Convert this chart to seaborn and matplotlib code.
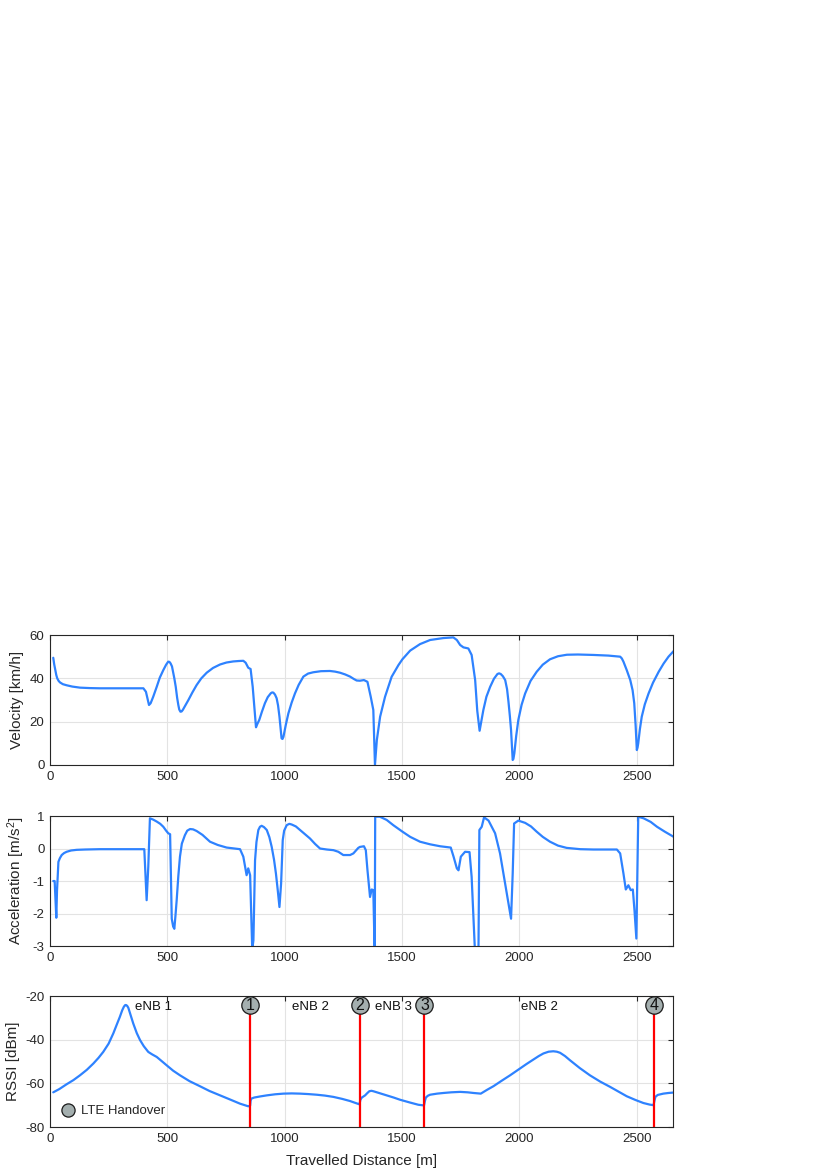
import numpy as np
import pandas as pd
import matplotlib
matplotlib.use("Agg")
import matplotlib.pyplot as plt
import seaborn as sns
from matplotlib.lines import Line2D

# ---------------- data ----------------
vel_x = [14, 18, 23, 27, 31, 37, 43, 55, 71, 95, 128, 170, 213, 398, 409, 422, 429, 440, 455,
         468, 483, 495, 504, 509, 514, 520, 530, 536, 542, 547, 551, 556, 561, 566, 577, 590,
         607, 625, 645, 668, 695, 725, 752, 781, 805, 824, 834, 845, 855, 864, 878, 884, 892,
         903, 916, 928, 941, 947, 952, 959, 966, 972, 978, 983, 987, 991, 995, 1005, 1016,
         1030, 1044, 1060, 1080, 1100, 1122, 1155, 1193, 1215, 1236, 1258, 1279, 1295, 1307,
         1321, 1338, 1353, 1367, 1378, 1385, 1393, 1407, 1428, 1456, 1485, 1502, 1535, 1577,
         1620, 1677, 1719, 1734, 1748, 1762, 1783, 1797, 1812, 1821, 1831, 1838, 1847, 1860,
         1876, 1892, 1907, 1914, 1921, 1930, 1940, 1948, 1954, 1960, 1965, 1969, 1972, 1975,
         1979, 1987, 1996, 2010, 2025, 2048, 2074, 2100, 2131, 2165, 2203, 2250, 2316, 2380,
         2430, 2437, 2444, 2458, 2473, 2483, 2490, 2496, 2501, 2504, 2507, 2514, 2522, 2535,
         2551, 2570, 2594, 2615, 2636, 2658]
vel_y = [49.5, 46.5, 43.8, 41.5, 40.0, 38.8, 38.1, 37.3, 36.8, 36.2, 35.7, 35.5, 35.4, 35.4,
         33.8, 27.7, 28.5, 31.5, 36.1, 40.3, 43.8, 46.3, 47.7, 47.6, 46.9, 45.5, 40.0, 36.1,
         31.0, 27.7, 25.6, 24.6, 24.7, 25.4, 27.5, 30.0, 33.5, 36.9, 40.0, 42.6, 44.8, 46.4,
         47.3, 47.8, 48.0, 48.1, 47.2, 44.9, 44.3, 36.1, 17.4, 19.0, 20.8, 24.5, 28.5, 31.3,
         33.1, 33.5, 33.4, 32.5, 30.8, 27.5, 22.3, 17.0, 12.3, 12.0, 13.0, 18.5, 23.8, 28.8,
         33.0, 37.0, 40.8, 42.2, 42.8, 43.3, 43.4, 43.1, 42.6, 41.8, 40.8, 39.7, 39.0, 38.9,
         39.2, 38.4, 31.5, 25.4, 0.0, 11.5, 22.3, 31.5, 40.7, 46.1, 48.8, 52.8, 55.8, 57.7,
         58.6, 58.9, 57.7, 55.4, 54.3, 53.8, 50.8, 39.2, 25.0, 15.8, 20.0, 25.4, 31.5, 36.1,
         39.8, 42.0, 42.3, 42.0, 41.0, 39.2, 35.0, 29.2, 22.5, 16.1, 8.0, 2.3, 2.8, 5.4, 13.5,
         20.8, 27.8, 33.0, 38.8, 43.0, 46.3, 48.8, 50.2, 50.9, 51.0, 50.8, 50.5, 50.0, 49.2,
         47.7, 43.8, 39.2, 34.5, 28.5, 18.0, 6.9, 8.0, 10.0, 16.5, 22.3, 28.0, 33.0, 38.0,
         43.0, 46.8, 50.0, 52.6]

acc_x = [14, 20, 27, 30, 36, 42, 50, 60, 71, 90, 114, 150, 213, 402, 412, 419, 426, 440, 455,
         470, 483, 495, 504, 512, 519, 525, 530, 535, 540, 547, 554, 562, 575, 585, 597, 610,
         625, 650, 682, 715, 753, 785, 810, 824, 838, 845, 853, 862, 867, 874, 880, 888, 895,
         902, 912, 924, 935, 945, 955, 963, 971, 978, 985, 992, 998, 1009, 1020, 1030, 1048,
         1066, 1087, 1108, 1130, 1151, 1180, 1208, 1229, 1250, 1279, 1293, 1314, 1321, 1338,
         1346, 1353, 1364, 1371, 1378, 1384, 1386, 1406, 1435, 1463, 1502, 1535, 1577, 1620,
         1663, 1708, 1720, 1734, 1741, 1751, 1769, 1788, 1797, 1812, 1826, 1830, 1840, 1850,
         1869, 1897, 1918, 1947, 1965, 1972, 1978, 1996, 2025, 2050, 2074, 2100, 2131, 2165,
         2202, 2260, 2316, 2416, 2430, 2444, 2454, 2465, 2475, 2484, 2491, 2499, 2507, 2530,
         2560, 2587, 2620, 2658]
acc_y = [-1.0, -1.0, -2.13, -1.3, -0.41, -0.3, -0.2, -0.14, -0.1, -0.06, -0.04, -0.03, -0.02,
         -0.02, -1.59, -0.56, 0.93, 0.89, 0.83, 0.76, 0.67, 0.55, 0.47, 0.44, -2.16, -2.4,
         -2.47, -2.05, -1.59, -0.85, -0.25, 0.15, 0.41, 0.55, 0.6, 0.59, 0.54, 0.42, 0.21,
         0.11, 0.03, 0.0, -0.02, -0.25, -0.82, -0.61, -0.82, -3.1, -2.83, -0.36, 0.2, 0.57,
         0.67, 0.70, 0.66, 0.57, 0.35, 0.05, -0.35, -0.77, -1.3, -1.8, -1.08, 0.26, 0.55,
         0.72, 0.76, 0.74, 0.68, 0.57, 0.44, 0.31, 0.14, 0.0, -0.03, -0.05, -0.1, -0.2, -0.2,
         -0.15, 0.02, 0.05, 0.07, -0.05, -0.66, -1.49, -1.26, -1.28, -3.3, 0.98, 0.98, 0.88,
         0.72, 0.52, 0.36, 0.21, 0.13, 0.07, 0.03, -0.25, -0.61, -0.67, -0.25, -0.10, -0.11,
         -0.87, -3.3, -3.3, 0.57, 0.67, 0.96, 0.86, 0.47, -0.15, -1.39, -2.16, -0.77, 0.77,
         0.86, 0.79, 0.68, 0.52, 0.36, 0.21, 0.09, 0.02, -0.02, -0.03, -0.03, -0.15, -0.77,
         -1.26, -1.13, -1.28, -1.26, -1.9, -2.77, 0.98, 0.93, 0.82, 0.67, 0.52, 0.36]

rssi_x = [14, 40, 71, 100, 128, 157, 185, 207, 227, 250, 270, 285, 298, 308, 315, 320, 324,
          329, 334, 343, 355, 370, 384, 400, 419, 435, 455, 475, 497, 525, 554, 595, 639, 680,
          725, 770, 810, 845, 853, 855, 858, 870, 895, 924, 960, 995, 1030, 1066, 1100, 1137,
          1172, 1208, 1245, 1279, 1300, 1319, 1323, 1329, 1343, 1352, 1361, 1370, 1378, 1405,
          1435, 1465, 1492, 1535, 1570, 1594, 1598, 1602, 1610, 1620, 1650, 1677, 1710, 1748,
          1780, 1805, 1836, 1862, 1890, 1925, 1961, 2003, 2030, 2060, 2083, 2103, 2125, 2145,
          2160, 2174, 2195, 2216, 2258, 2301, 2345, 2387, 2425, 2458, 2495, 2529, 2555, 2572,
          2576, 2580, 2590, 2614, 2636, 2658]
rssi_y = [-64.1, -62.6, -60.4, -58.5, -56.3, -53.8, -50.9, -48.3, -45.6, -41.8, -37.1, -33.0,
          -29.5, -26.5, -24.9, -24.2, -24.1, -24.5, -25.4, -28.5, -32.6, -37.0, -40.2, -43.0,
          -45.6, -46.7, -47.9, -49.7, -51.7, -54.2, -56.3, -59.0, -61.3, -63.5, -65.5, -67.5,
          -69.3, -70.5, -70.2, -68.0, -67.0, -66.5, -66.0, -65.5, -65.0, -64.7, -64.6, -64.7,
          -64.9, -65.2, -65.6, -66.2, -67.1, -68.1, -68.9, -69.6, -67.5, -66.5, -65.5, -64.5,
          -63.6, -63.4, -63.6, -64.5, -65.5, -66.5, -67.5, -68.8, -69.8, -70.1, -68.0, -66.5,
          -65.7, -65.2, -64.7, -64.4, -64.1, -63.9, -64.1, -64.4, -64.7, -63.0, -61.3, -58.8,
          -56.3, -53.2, -51.2, -49.1, -47.5, -46.3, -45.5, -45.3, -45.5, -46.0, -47.5, -49.4,
          -53.0, -56.3, -59.2, -61.6, -63.9, -65.9, -67.6, -69.0, -69.7, -70.0, -68.0, -66.2,
          -65.3, -64.7, -64.4, -64.2]

handover_x = [853, 1321, 1596, 2575]
handover_labels = ["1", "2", "3", "4"]
handover_level = -24.2

enb_labels = ["eNB 1", "eNB 2", "eNB 3", "eNB 2"]
enb_x = [362, 1030, 1385, 2007]
enb_y = -25.2

x_ticks = [0, 500, 1000, 1500, 2000, 2500]
x_max = 2655

# ---------------- style ----------------
sns.set_theme(style="whitegrid")
plt.rcParams.update({
    "font.family": ["Liberation Sans", "DejaVu Sans"],
    "mathtext.fontset": "custom",
    "mathtext.rm": "Liberation Sans",
    "mathtext.it": "Liberation Sans",
    "axes.unicode_minus": False,
    "grid.color": "#e3e3e3",
    "grid.linewidth": 0.8,
    "axes.edgecolor": "#262626",
    "axes.linewidth": 0.8,
    "xtick.color": "#262626",
    "ytick.color": "#262626",
    "axes.labelcolor": "#262626",
})

BLUE = "#2e82ff"
GRAY = "#a4afaf"

fig = plt.figure(figsize=(8.3, 11.74), dpi=100)
left, width = 0.0602, 0.7506
ax1 = fig.add_axes([left, 0.3484, width, 0.1107])
ax2 = fig.add_axes([left, 0.1942, width, 0.1107])
ax3 = fig.add_axes([left, 0.0400, width, 0.1116])

df_v = pd.DataFrame({"d": vel_x, "v": vel_y})
df_a = pd.DataFrame({"d": acc_x, "a": acc_y})
df_r = pd.DataFrame({"d": rssi_x, "r": rssi_y})

kw = dict(color=BLUE, linewidth=1.6, sort=False, estimator=None)
sns.lineplot(data=df_v, x="d", y="v", ax=ax1, **kw)
sns.lineplot(data=df_a, x="d", y="a", ax=ax2, **kw)
sns.lineplot(data=df_r, x="d", y="r", ax=ax3, **kw)
for ax in (ax1, ax2, ax3):
    for ln in ax.get_lines():
        ln.set_solid_joinstyle("round")

ax1.set_ylim(0, 60)
ax1.set_yticks([0, 20, 40, 60])
ax1.set_ylabel("Velocity [km/h]", fontsize=11)

ax2.set_ylim(-3, 1)
ax2.set_yticks([-3, -2, -1, 0, 1])
ax2.set_ylabel("Acceleration [m/s$^2$]", fontsize=11)

ax3.set_ylim(-80, -20)
ax3.set_yticks([-80, -60, -40, -20])
ax3.set_ylabel("RSSI [dBm]", fontsize=11)
ax3.set_xlabel("Travelled Distance [m]", fontsize=11, labelpad=7)

for ax in (ax1, ax2, ax3):
    ax.set_xlim(0, x_max)
    ax.set_xticks(x_ticks)
    if ax is not ax3:
        ax.set_xlabel("")
    ax.tick_params(direction="in", top=True, right=True, length=3.5, width=0.8,
                   labelsize=9.5, pad=4)
    ax.grid(True)
    for s in ax.spines.values():
        s.set_visible(True)
        s.set_color("#262626")
        s.set_linewidth(0.8)

# handover markers
for hx, lab in zip(handover_x, handover_labels):
    ax3.vlines(hx, -80, handover_level, colors="#ff0000", linewidth=1.6, zorder=4)
    ax3.plot([hx], [handover_level], marker="o", markersize=12.5, markerfacecolor=GRAY,
             markeredgecolor="#1a1a1a", markeredgewidth=0.9, linestyle="none",
             zorder=5, clip_on=False)
    ax3.text(hx, handover_level - 0.3, lab, ha="center", va="center", fontsize=11.5,
             color="#111111", zorder=6, clip_on=False)

for lab, ex in zip(enb_labels, enb_x):
    ax3.text(ex, enb_y, lab, ha="left", va="center", fontsize=9.5, color="#111111")

handle = Line2D([], [], marker="o", linestyle="none", markersize=9.5,
                markerfacecolor=GRAY, markeredgecolor="#1a1a1a", markeredgewidth=0.9)
ax3.legend([handle], ["LTE Handover"], loc="lower left", frameon=False,
           fontsize=9.5, handletextpad=0.3, borderaxespad=0.55, borderpad=0.2,
           handlelength=1.3)

fig.savefig("out.png", dpi=100)
